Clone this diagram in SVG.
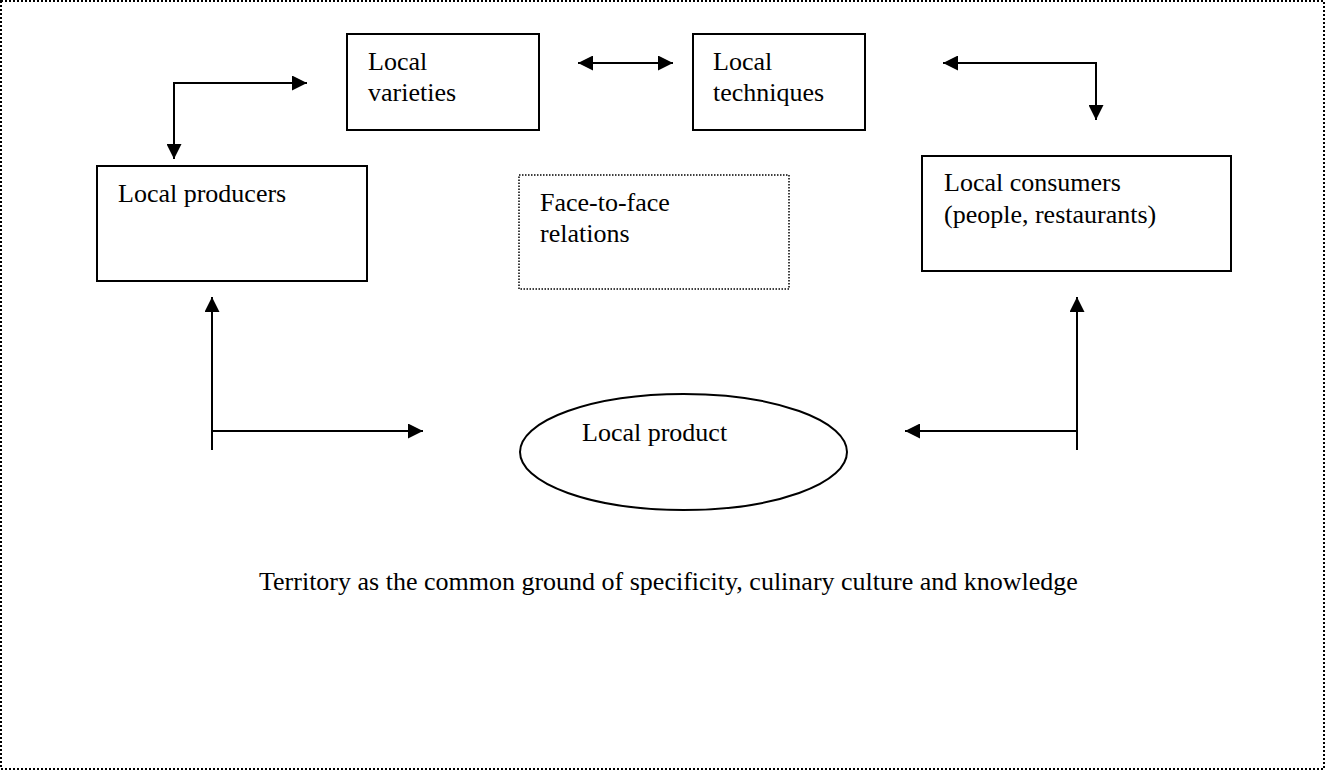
<svg xmlns="http://www.w3.org/2000/svg" width="1325" height="771" viewBox="0 0 1325 771">
<style>
.box{fill:#fff;stroke:#000;stroke-width:2}
.dot{fill:none;stroke:#000;stroke-width:1.5;stroke-dasharray:1.5 1.5}
.lbl{font-family:"Liberation Serif","Times New Roman",serif;font-size:26px;fill:#000}
.con{fill:none;stroke:#000;stroke-width:2}
</style>
<defs>
<marker id="ah" markerUnits="userSpaceOnUse" markerWidth="15" markerHeight="15" refX="15" refY="7.5" orient="auto-start-reverse" viewBox="0 0 15 15">
<path d="M0,0 L15,7.5 L0,15 z" fill="#000"/>
</marker>
</defs>
<rect x="1" y="1" width="1323" height="768" fill="#fff" stroke="#000" stroke-width="2" stroke-dasharray="2 2"/>
<g id="varieties">
<rect class="box" x="347" y="34" width="192" height="96"/>
<text class="lbl" x="368" y="70">Local</text>
<text class="lbl" x="368" y="101">varieties</text>
</g>
<g id="techniques">
<rect class="box" x="693" y="34" width="172" height="96"/>
<text class="lbl" x="713" y="70">Local</text>
<text class="lbl" x="713" y="101">techniques</text>
</g>
<g id="producers">
<rect class="box" x="97" y="166" width="270" height="115"/>
<text class="lbl" x="118" y="202">Local producers</text>
</g>
<g id="facetoface">
<rect class="dot" x="519" y="175" width="270" height="114"/>
<text class="lbl" x="540" y="211">Face-to-face</text>
<text class="lbl" x="540" y="242">relations</text>
</g>
<g id="consumers">
<rect class="box" x="922" y="156" width="309" height="115"/>
<text class="lbl" x="944" y="191">Local consumers</text>
<text class="lbl" x="944" y="223">(people, restaurants)</text>
</g>
<g id="product">
<ellipse cx="683.5" cy="452" rx="163.5" ry="58" fill="#fff" stroke="#000" stroke-width="2"/>
<text class="lbl" x="582" y="441">Local product</text>
</g>
<g id="caption">
<text class="lbl" x="259" y="590">Territory as the common ground of specificity, culinary culture and knowledge</text>
</g>
<g id="connectors">
<path class="con" d="M174,159 V83 H307" marker-start="url(#ah)" marker-end="url(#ah)"/>
<path class="con" d="M578,63 H673" marker-start="url(#ah)" marker-end="url(#ah)"/>
<path class="con" d="M943,63 H1096 V120" marker-start="url(#ah)" marker-end="url(#ah)"/>
<path class="con" d="M212,450 V297" marker-end="url(#ah)"/>
<path class="con" d="M212,431 H423" marker-end="url(#ah)"/>
<path class="con" d="M1077,450 V297" marker-end="url(#ah)"/>
<path class="con" d="M1077,431 H905" marker-end="url(#ah)"/>
</g>
</svg>
